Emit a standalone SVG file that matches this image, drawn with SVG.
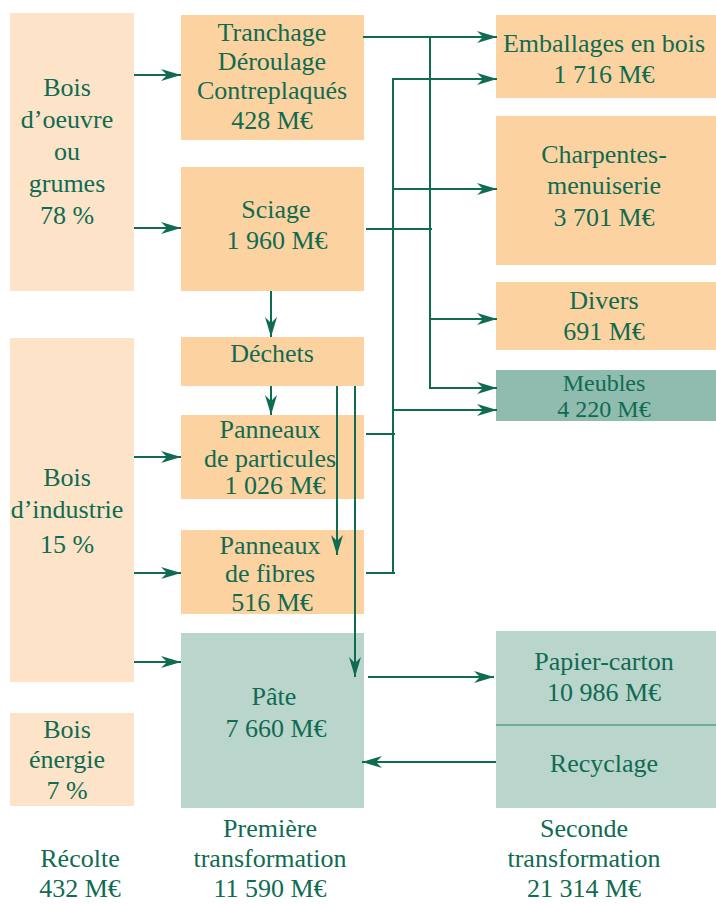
<svg xmlns="http://www.w3.org/2000/svg" width="716" height="905" viewBox="0 0 716 905" font-family="Liberation Serif, serif">
<style>
text{font-family:'Liberation Serif','Times New Roman',serif;font-size:26px;fill:#0f6b52;text-anchor:middle}
.lt{fill:#fde4c9}
.pk{fill:#fcd3a0}
.tl{fill:#b9d5cc}
.td{fill:#8fbcaf}
.c{fill:none;stroke:#0f6b52;stroke-width:2}
.a{marker-end:url(#ah)}
.sm{font-size:24px}
</style>
<defs>
<marker id="ah" viewBox="0 0 20 12" refX="20" refY="6" markerWidth="20" markerHeight="12" orient="auto" markerUnits="userSpaceOnUse">
<path d="M0,0 L20,6 L0,12 L6,6 z" fill="#0f6b52"/>
</marker>
</defs>
<rect width="716" height="905" fill="#ffffff"/>
<g id="bois-oeuvre"><rect class="lt" x="10" y="13" width="124" height="278"/>
<text x="67" y="96">Bois</text><text x="67" y="128">d’oeuvre</text><text x="67" y="160">ou</text><text x="67" y="192">grumes</text><text x="67" y="224">78 %</text></g>
<g id="bois-industrie"><rect class="lt" x="10" y="338" width="124" height="344"/>
<text x="67" y="486">Bois</text><text x="67" y="518">d’industrie</text><text x="67" y="553">15 %</text></g>
<g id="bois-energie"><rect class="lt" x="10" y="713" width="124" height="93"/>
<text x="67" y="738">Bois</text><text x="67" y="768">énergie</text><text x="67" y="799">7 %</text></g>
<g id="tranchage"><rect class="pk" x="181" y="15" width="183" height="125"/>
<text x="272" y="41">Tranchage</text><text x="272" y="70">Déroulage</text><text x="272" y="99">Contreplaqués</text><text x="272" y="129">428 M€</text></g>
<g id="sciage"><rect class="pk" x="181" y="167" width="183" height="124"/>
<text x="276" y="218">Sciage</text><text x="277" y="249">1 960 M€</text></g>
<g id="dechets"><rect class="pk" x="181" y="337" width="183" height="49"/>
<text x="272" y="362">Déchets</text></g>
<g id="particules"><rect class="pk" x="181" y="415" width="183" height="84"/>
<text x="270" y="438">Panneaux</text><text x="270" y="467">de particules</text><text x="275" y="494">1 026 M€</text></g>
<g id="fibres"><rect class="pk" x="181" y="530" width="183" height="84"/>
<text x="270" y="554">Panneaux</text><text x="270" y="582">de fibres</text><text x="272" y="611">516 M€</text></g>
<g id="pate"><rect class="tl" x="181" y="633" width="183" height="175"/>
<text x="274" y="705">Pâte</text><text x="276" y="737">7 660 M€</text></g>
<g id="emballages"><rect class="pk" x="496" y="15" width="220" height="83"/>
<text x="604" y="52">Emballages en bois</text><text x="604" y="83">1 716 M€</text></g>
<g id="charpentes"><rect class="pk" x="496" y="116" width="220" height="149"/>
<text x="604" y="163">Charpentes-</text><text x="604" y="194">menuiserie</text><text x="604" y="226">3 701 M€</text></g>
<g id="divers"><rect class="pk" x="496" y="282" width="220" height="68"/>
<text x="604" y="309">Divers</text><text x="604" y="340">691 M€</text></g>
<g id="meubles"><rect class="td" x="496" y="370" width="220" height="51"/>
<text class="sm" x="604" y="391">Meubles</text><text class="sm" x="604" y="417">4 220 M€</text></g>
<g id="papier"><rect class="tl" x="496" y="631" width="220" height="177"/>
<line x1="496" y1="725" x2="716" y2="725" stroke="#5f9e8a" stroke-width="1.5"/>
<text x="604" y="670">Papier-carton</text><text x="604" y="701">10 986 M€</text><text x="604" y="772">Recyclage</text></g>
<g id="labels">
<text x="80" y="867">Récolte</text><text x="80" y="897">432 M€</text>
<text x="270" y="837">Première</text><text x="270" y="867">transformation</text><text x="270" y="897">11 590 M€</text>
<text x="584" y="837">Seconde</text><text x="584" y="867">transformation</text><text x="584" y="897">21 314 M€</text>
</g>
<g id="connectors">
<path class="c a" d="M134,75 H181"/>
<path class="c a" d="M134,228 H181"/>
<path class="c a" d="M134,457 H181"/>
<path class="c a" d="M134,573 H181"/>
<path class="c a" d="M134,662 H181"/>
<path class="c a" d="M271,291 V337"/>
<path class="c a" d="M271,386 V415"/>
<path class="c a" d="M363,37 H497"/>
<path class="c a" d="M430,37 V388 H497"/>
<path class="c a" d="M430,319 H497"/>
<path class="c" d="M366,229 H432"/>
<path class="c a" d="M393,573 V79 H497"/>
<path class="c a" d="M393,189 H497"/>
<path class="c a" d="M393,410 H497"/>
<path class="c" d="M366,434 H395"/>
<path class="c" d="M366,573 H395"/>
<path class="c a" d="M337,386 V555"/>
<path class="c a" d="M355,386 V677"/>
<path class="c a" d="M368,677 H494"/>
<path class="c a" d="M496,762 H362"/>
</g>
</svg>
